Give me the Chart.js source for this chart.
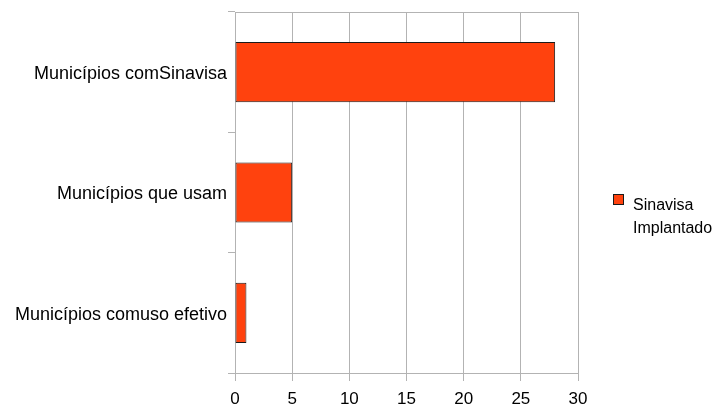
<!DOCTYPE html>
<html>
<head>
<meta charset="utf-8">
<script src="https://cdn.jsdelivr.net/npm/chart.js@4/dist/chart.umd.min.js"></script>
<style>
  html, body { margin: 0; padding: 0; background: #fff; }
  #wrap { width: 716px; height: 407px; position: relative; }
</style>
</head>
<body>
<div id="wrap"><canvas id="chart"></canvas></div>
<script>
const categories = ['Municípios comSinavisa', 'Municípios que usam', 'Municípios comuso efetivo'];
const seriesName = ['Sinavisa', 'Implantado'];
const seriesValues = [28, 5, 1];
const xTicks = [0, 5, 10, 15, 20, 25, 30];

const FONT = '"Liberation Sans", Arial, sans-serif';
const GRID = '#b3b3b3';
const BAR = '#ff420e';

// borda em volta da área do gráfico
const frame = {
  id: 'frame',
  beforeDatasetsDraw(chart) {
    const { ctx, chartArea: a } = chart;
    ctx.save();
    ctx.strokeStyle = GRID;
    ctx.lineWidth = 1;
    ctx.strokeRect(Math.round(a.left) + 0.5, Math.round(a.top) + 0.5,
      Math.round(a.right - a.left), Math.round(a.bottom - a.top));
    ctx.restore();
  }
};

// legenda desenhada à direita, em duas linhas
const sideLegend = {
  id: 'sideLegend',
  afterDraw(chart) {
    const { ctx, chartArea: a } = chart;
    const ds = chart.data.datasets[0];
    const x = Math.round(a.right) + 35;
    const mid = Math.round((a.top + a.bottom) / 2);
    ctx.save();
    ctx.fillStyle = ds.backgroundColor;
    ctx.fillRect(x, mid + 1, 11, 11);
    ctx.strokeStyle = ds.borderColor;
    ctx.lineWidth = 1;
    ctx.strokeRect(x + 0.5, mid + 1.5, 10, 10);
    ctx.fillStyle = '#000';
    ctx.font = '16px ' + FONT;
    ctx.textBaseline = 'alphabetic';
    const lines = Array.isArray(ds.label) ? ds.label : [ds.label];
    lines.forEach((t, i) => ctx.fillText(t, x + 20, mid + 16.5 + i * 23));
    ctx.restore();
  }
};

new Chart(document.getElementById('chart'), {
  type: 'bar',
  data: {
    labels: categories,
    datasets: [{
      label: seriesName,
      data: seriesValues,
      backgroundColor: BAR,
      borderColor: '#1a1a1a',
      borderWidth: 1,
      borderSkipped: false,
      barPercentage: 0.5,
      categoryPercentage: 1
    }]
  },
  options: {
    indexAxis: 'y',
    responsive: true,
    maintainAspectRatio: false,
    animation: false,
    layout: { padding: { left: 0, top: 12, right: 138, bottom: 0 } },
    plugins: {
      legend: { display: false },
      tooltip: { enabled: false }
    },
    scales: {
      x: {
        min: 0,
        max: 30,
        afterBuildTicks(axis) { axis.ticks = xTicks.map(v => ({ value: v })); },
        afterFit(axis) { axis.height = 34; axis.paddingLeft = 0; axis.paddingRight = 0; },
        grid: { color: GRID, tickLength: 8, drawTicks: true },
        border: { color: GRID },
        ticks: { color: '#000', font: { family: FONT, size: 17 }, padding: 8, maxRotation: 0 }
      },
      y: {
        afterFit(axis) { axis.width = 235; axis.paddingTop = 0; axis.paddingBottom = 0; },
        grid: { color: GRID, drawOnChartArea: false, tickLength: 7, offset: true },
        border: { color: GRID },
        ticks: { color: '#000', font: { family: FONT, size: 18 }, padding: 1, labelOffset: 2 }
      }
    }
  },
  plugins: [frame, sideLegend]
});
</script>
</body>
</html>
